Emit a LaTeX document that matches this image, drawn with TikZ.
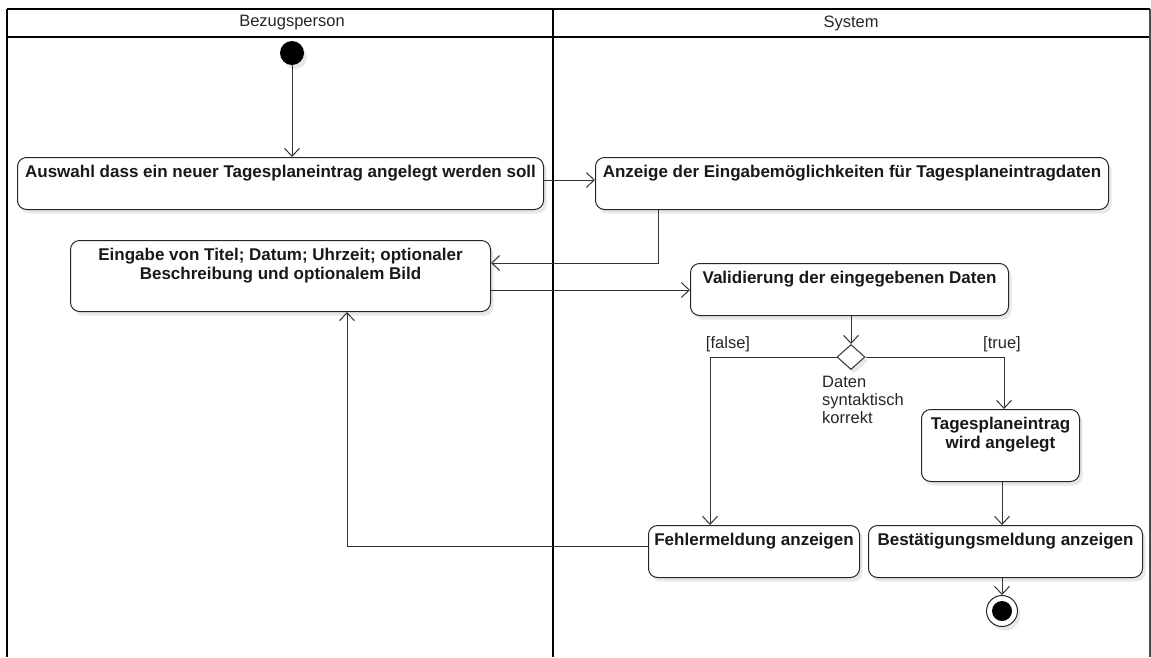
\documentclass[tikz,border=0pt]{standalone}
\usepackage{fontspec}
\setmainfont{Liberation Sans}
\usetikzlibrary{arrows.meta,shadows,shapes.geometric}

\tikzset{
  lane/.style={line width=2.2pt, black},
  boxshadow/.style={drop shadow={shadow xshift=3pt, shadow yshift=-4pt, fill=black!9, opacity=1}},
  actbox/.style={draw=black!85, line width=1pt, rounded corners=9pt, fill=white,
    boxshadow, inner sep=0pt, anchor=north west},
  boxtext/.style={font=\bfseries\fontsize{17}{18.5}\selectfont, anchor=north,
    inner sep=0pt, yshift=-8pt, align=center, text=black!90},
  plain/.style={font=\fontsize{16.5}{18}\selectfont, text=black!85, inner sep=0pt},
  flow/.style={draw=black!80, line width=1pt,
    -{Straight Barb[length=8pt, width=15pt, line width=1pt]}},
}

\begin{document}
\begin{tikzpicture}[x=1pt, y=-1pt]
\useasboundingbox (0,0) rectangle (1151,657);

% swimlanes
\draw[lane] (7,9) -- (1150,9);
\draw[lane] (7,37) -- (1150,37);
\draw[lane] (7,9) -- (7,657);
\draw[lane] (553,9) -- (553,657);
\draw[line width=1.5pt, black!70] (1150,9) -- (1150,657);
\node[plain] (h1) at (292,23) {Bezugsperson};
\node[plain] (h2) at (851,23) {System};

% initial node
\node[circle, fill=black, minimum size=24pt, inner sep=0pt, boxshadow] (start) at (292,53) {};

% actions
\node[actbox, minimum width=526pt, minimum height=52pt,
  label={[boxtext]north:Auswahl dass ein neuer Tagesplaneintrag angelegt werden soll}]
  (b1) at (17,157) {};
\node[actbox, minimum width=513pt, minimum height=52pt,
  label={[boxtext]north:Anzeige der Eingabemöglichkeiten für Tagesplaneintragdaten}]
  (b2) at (595,157) {};
\node[actbox, minimum width=420pt, minimum height=71pt,
  label={[boxtext]north:Eingabe von Titel; Datum; Uhrzeit; optionaler\\Beschreibung und optionalem Bild}]
  (b3) at (70,240) {};
\node[actbox, minimum width=318pt, minimum height=52pt,
  label={[boxtext]north:Validierung der eingegebenen Daten}]
  (b4) at (690,263) {};
\node[actbox, minimum width=158pt, minimum height=72pt,
  label={[boxtext]north:Tagesplaneintrag\\wird angelegt}]
  (b5) at (921,409) {};
\node[actbox, minimum width=211pt, minimum height=52pt,
  label={[boxtext]north:Fehlermeldung anzeigen}]
  (b6) at (648,525) {};
\node[actbox, minimum width=274pt, minimum height=52pt,
  label={[boxtext]north:Bestätigungsmeldung anzeigen}]
  (b7) at (868,525) {};

% decision
\node[diamond, draw=black!80, line width=1pt, fill=white, minimum width=28pt,
  minimum height=25pt, inner sep=0pt, boxshadow] (dec) at (851,357) {};
\node[plain, anchor=north west, align=left] (declbl) at (822,376)
  {Daten\\syntaktisch\\korrekt};
\node[plain] (lfalse) at (728,344) {[false]};
\node[plain] (ltrue) at (1002,344) {[true]};

% final node
\node[circle, draw=black!85, line width=1pt, fill=white, minimum size=31pt,
  inner sep=0pt, boxshadow] (end) at (1002,611) {};
\node[circle, fill=black, minimum size=20pt, inner sep=0pt] (endin) at (end) {};

% coordinates for bends
\coordinate (c1) at (658,263);
\coordinate (c2) at (710,357);
\coordinate (c3) at (1004,357);
\coordinate (c4) at (347,546);

% flows
\draw[flow] (start) -- (start |- b1.north);
\draw[flow] (b1.east |- 0,180) -- (b2.west |- 0,180);
\draw[flow] (c1 |- b2.south) -- (c1) -- (b3.east |- c1);
\draw[flow] (b3.east |- 0,290) -- (b4.west |- 0,290);
\draw[flow] (b4.south -| dec.north) -- (dec.north);
\draw[flow] (dec.west) -- (c2) -- (c2 |- b6.north);
\draw[flow] (dec.east) -- (c3) -- (c3 |- b5.north);
\draw[flow] (b5.south -| 1002,0) -- (b7.north -| 1002,0);
\draw[flow] (b6.west |- c4) -- (c4) -- (c4 |- b3.south);
\draw[flow] (b7.south -| end) -- (end.north);
\end{tikzpicture}
\end{document}
